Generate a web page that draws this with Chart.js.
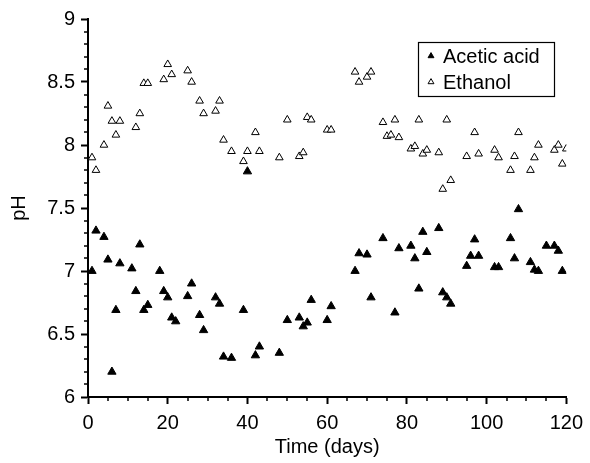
<!DOCTYPE html>
<html>
<head>
<meta charset="utf-8">
<script src="https://cdn.jsdelivr.net/npm/chart.js@4/dist/chart.umd.min.js"></script>
<style>
  html, body { margin: 0; padding: 0; background: #fff; }
  #wrap { width: 590px; height: 463px; position: relative; }
</style>
</head>
<body>
<div id="wrap"><canvas id="canvas"></canvas></div>
<script>
// data
const aceticDays = [1, 2, 4, 5, 6, 7, 8, 11, 12, 13, 14, 15, 18, 19, 20, 21, 22, 25, 26, 28, 29, 32, 33, 34, 36, 39, 40, 42, 43, 48,
  50, 53, 54, 55, 56, 60, 61, 67, 68, 70, 71, 74, 77, 78, 81, 82, 83, 84, 85, 88, 89, 90, 91, 95, 96, 97, 98, 102, 103, 106,
  107, 108, 111, 112, 113, 115, 117, 118, 119];
const aceticPH = [7.0, 7.32, 7.27, 7.09, 6.2, 6.69, 7.06, 7.02, 6.84, 7.21, 6.69, 6.73, 7.0, 6.84, 6.79, 6.63, 6.6, 6.8, 6.9, 6.65, 6.53, 6.79, 6.74, 6.32, 6.31, 6.69, 7.79, 6.33, 6.4, 6.35,
  6.61, 6.63, 6.56, 6.59, 6.77, 6.61, 6.72, 7.0, 7.14, 7.13, 6.79, 7.26, 6.67, 7.18, 7.2, 7.1, 6.86, 7.31, 7.15, 7.34, 6.83, 6.79, 6.74, 7.04, 7.12, 7.25, 7.12, 7.03, 7.03, 7.26,
  7.1, 7.49, 7.07, 7.01, 7.0, 7.2, 7.2, 7.16, 7.0];

const ethanolDays = [1, 2, 4, 5, 6, 7, 8, 12, 13, 14, 15, 19, 20, 21, 25, 26, 28, 29, 32, 33, 34, 36, 39, 40, 42, 43, 48, 50, 53, 54,
  55, 56, 60, 61, 67, 68, 70, 71, 74, 75, 76, 77, 78, 81, 82, 83, 84, 85, 88, 89, 90, 91, 95, 97, 98, 102, 103, 106, 107, 108,
  111, 112, 113, 117, 118, 119, 120];
const ethanolPH = [7.9, 7.8, 8.0, 8.31, 8.19, 8.08, 8.19, 8.14, 8.25, 8.49, 8.49, 8.52, 8.64, 8.56, 8.59, 8.5, 8.35, 8.25, 8.27, 8.35, 8.04, 7.95, 7.87, 7.95, 8.1, 7.95, 7.9, 8.2, 7.91, 7.94,
  8.22, 8.2, 8.12, 8.12, 8.58, 8.5, 8.54, 8.58, 8.18, 8.07, 8.08, 8.2, 8.06, 7.97, 7.99, 8.2, 7.93, 7.96, 7.94, 7.65, 8.2, 7.72, 7.91, 8.1, 7.93, 7.96, 7.9, 7.8, 7.91, 8.1,
  7.8, 7.9, 8.0, 7.96, 8.0, 7.85, 7.97];

const xTicks = [0, 20, 40, 60, 80, 100, 120];
const yTicks = [6, 6.5, 7, 7.5, 8, 8.5, 9];

const FONT = 'Arial, "Liberation Sans", Helvetica, sans-serif';
Chart.defaults.font.family = FONT;
Chart.defaults.color = '#000';

function toPoints(xs, ys) {
  return xs.map((x, i) => ({ x: x, y: ys[i] }));
}

// short minor ticks, outside the axes
const minorTicks = {
  id: 'minorTicks',
  afterDraw(chart) {
    const ctx = chart.ctx;
    const xs = chart.scales.x, ys = chart.scales.y;
    ctx.save();
    ctx.strokeStyle = '#000';
    ctx.lineWidth = 1.5;
    ctx.beginPath();
    for (let v = 0; v <= 120; v += 5) {
      if (v % 20 === 0) continue;
      const px = Math.round(xs.getPixelForValue(v));
      ctx.moveTo(px, xs.top);
      ctx.lineTo(px, xs.top + 4);
    }
    for (let i = 0; i <= 30; i++) {
      if (i % 5 === 0) continue;
      const py = Math.round(ys.getPixelForValue(6 + i / 10));
      ctx.moveTo(ys.right, py);
      ctx.lineTo(ys.right - 4, py);
    }
    ctx.stroke();
    ctx.restore();
  }
};

// boxed legend inside the plot, top right
const boxLegend = {
  id: 'boxLegend',
  afterDraw(chart) {
    const ctx = chart.ctx;
    const x0 = 418, y0 = 42, w = 136, h = 54;
    ctx.save();
    ctx.fillStyle = '#fff';
    ctx.fillRect(x0, y0, w, h);
    ctx.strokeStyle = '#000';
    ctx.lineWidth = 1.2;
    ctx.strokeRect(x0 + 0.5, y0 + 0.5, w, h);
    ctx.font = '20px ' + FONT;
    ctx.textBaseline = 'middle';
    chart.data.datasets.forEach((ds, i) => {
      const cy = y0 + 14 + i * 26;
      const cx = x0 + 13, r = 3.4;
      ctx.beginPath();
      ctx.moveTo(cx, cy - r);
      ctx.lineTo(cx + r * 0.866, cy + r / 2);
      ctx.lineTo(cx - r * 0.866, cy + r / 2);
      ctx.closePath();
      ctx.lineWidth = 1;
      if (ds.backgroundColor === '#000') { ctx.fillStyle = '#000'; ctx.fill(); }
      ctx.strokeStyle = '#000';
      ctx.stroke();
      ctx.fillStyle = '#000';
      ctx.fillText(ds.label, x0 + 25, cy + 1);
    });
    ctx.restore();
  }
};

const data = {
  datasets: [{
    label: 'Acetic acid',
    data: toPoints(aceticDays, aceticPH),
    pointStyle: 'triangle',
    pointRadius: 4.8,
    backgroundColor: '#000',
    borderColor: '#000',
    borderWidth: 1
  }, {
    label: 'Ethanol',
    data: toPoints(ethanolDays, ethanolPH),
    pointStyle: 'triangle',
    pointRadius: 4.4,
    backgroundColor: '#fff',
    borderColor: '#000',
    borderWidth: 1
  }]
};

const options = {
  responsive: true,
  maintainAspectRatio: false,
  animation: false,
  layout: { padding: { top: 19, right: 20, left: 0, bottom: 0 } },
  plugins: {
    legend: { display: false },
    tooltip: { enabled: false }
  },
  scales: {
    x: {
      type: 'linear',
      min: 0,
      max: 120,
      afterBuildTicks: s => { s.ticks = xTicks.map(v => ({ value: v })); },
      afterFit: s => { s.height = 66; },
      grid: { drawOnChartArea: false, tickLength: 7, tickWidth: 2, tickColor: '#000' },
      border: { display: true, color: '#000', width: 2 },
      ticks: { font: { size: 20 }, padding: 7, maxRotation: 0, callback: v => String(v) },
      title: { display: true, text: 'Time (days)', font: { size: 20 }, padding: { top: 10 } }
    },
    y: {
      type: 'linear',
      min: 6,
      max: 9,
      afterBuildTicks: s => { s.ticks = yTicks.map(v => ({ value: v })); },
      afterFit: s => { s.width = 88; },
      grid: { drawOnChartArea: false, tickLength: 7, tickWidth: 2, tickColor: '#000' },
      border: { display: true, color: '#000', width: 2 },
      ticks: { font: { size: 20 }, padding: 6, callback: v => String(v) },
      title: { display: true, text: 'pH', font: { size: 20 }, padding: { top: 7, bottom: 0 } }
    }
  }
};

new Chart(document.getElementById('canvas'), {
  type: 'scatter',
  data: data,
  options: options,
  plugins: [minorTicks, boxLegend]
});
</script>
</body>
</html>
